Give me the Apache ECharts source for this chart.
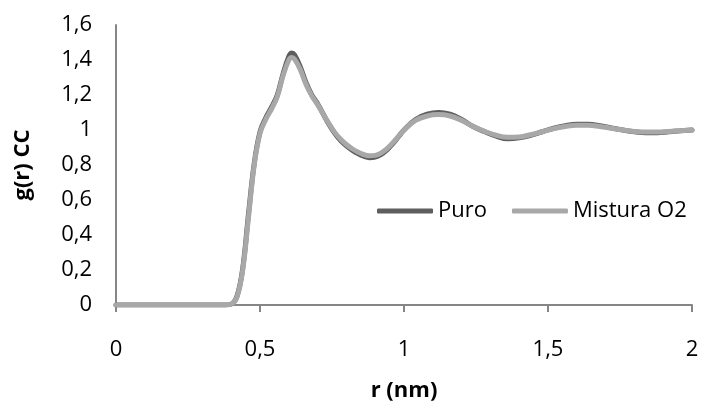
<!DOCTYPE html>
<html>
<head>
<meta charset="utf-8">
<script src="https://cdn.jsdelivr.net/npm/echarts@6/dist/echarts.min.js"></script>
<style>
html,body{margin:0;padding:0;background:#fff;}
#chart{width:703px;height:415px;}
</style>
</head>
<body>
<div id="chart"></div>
<script>
const rValues = [0, 0.1, 0.2, 0.3, 0.38, 0.40, 0.42, 0.44, 0.46, 0.48, 0.50, 0.52, 0.54, 0.56, 0.58, 0.60, 0.61, 0.62, 0.64, 0.66, 0.68, 0.70, 0.72, 0.74, 0.76, 0.78, 0.80, 0.82, 0.84, 0.86, 0.88, 0.90, 0.92, 0.94, 0.96, 0.98, 1.00, 1.04, 1.08, 1.12, 1.16, 1.20, 1.24, 1.28, 1.32, 1.36, 1.40, 1.44, 1.48, 1.52, 1.56, 1.60, 1.64, 1.68, 1.72, 1.76, 1.80, 1.84, 1.88, 1.92, 1.96, 2.00];
const puro = [0, 0, 0, 0, 0, 0.005, 0.05, 0.21, 0.52, 0.81, 0.99, 1.07, 1.13, 1.2, 1.32, 1.42, 1.44, 1.43, 1.36, 1.27, 1.2, 1.15, 1.09, 1.03, 0.98, 0.94, 0.91, 0.885, 0.865, 0.85, 0.842, 0.845, 0.86, 0.885, 0.92, 0.96, 1.0, 1.06, 1.09, 1.1, 1.09, 1.06, 1.02, 0.99, 0.965, 0.95, 0.955, 0.97, 0.99, 1.01, 1.025, 1.033, 1.033, 1.025, 1.012, 1.0, 0.99, 0.985, 0.985, 0.99, 0.995, 1.0];
const mistura = [0, 0, 0, 0, 0, 0.005, 0.045, 0.2, 0.5, 0.8, 0.98, 1.06, 1.12, 1.19, 1.31, 1.4, 1.415, 1.405, 1.345, 1.26, 1.195, 1.145, 1.09, 1.035, 0.985, 0.947, 0.917, 0.893, 0.874, 0.86, 0.853, 0.855, 0.868, 0.892, 0.925, 0.962, 1.0, 1.055, 1.08, 1.088, 1.08, 1.055, 1.02, 0.992, 0.97, 0.958, 0.96, 0.973, 0.99, 1.008, 1.02, 1.027, 1.027, 1.02, 1.01, 1.0, 0.992, 0.988, 0.988, 0.992, 0.996, 1.0];
const seriesNames = ['Puro', 'Mistura O2'];
const xTicks = [0, 0.5, 1, 1.5, 2];
const yTicks = [0, 0.2, 0.4, 0.6, 0.8, 1, 1.2, 1.4, 1.6];

const fmt = v => String(Math.round(v * 10) / 10).replace('.', ',');
const FONT = '"Open Sans", "Noto Sans", sans-serif';

const chart = echarts.init(document.getElementById('chart'), null, {renderer: 'canvas'});
chart.setOption({
  animation: false,
  backgroundColor: '#ffffff',
  grid: {left: 116, right: 11, top: 25, bottom: 110, containLabel: false},
  legend: {
    left: 372, top: 195,
    itemWidth: 56, itemHeight: 5, itemGap: 25,
    icon: 'roundRect',
    textStyle: {fontFamily: FONT, fontSize: 22, color: '#000'},
    data: seriesNames
  },
  xAxis: {
    type: 'value', min: xTicks[0], max: xTicks[xTicks.length - 1], interval: 0.5,
    name: 'r (nm)', nameLocation: 'middle', nameGap: 75,
    nameTextStyle: {fontFamily: FONT, fontSize: 22, fontWeight: 'bold', color: '#000'},
    axisLine: {show: true, lineStyle: {color: '#868686', width: 2}},
    axisTick: {show: true, length: 7, lineStyle: {color: '#868686', width: 2}},
    axisLabel: {fontFamily: FONT, fontSize: 22, color: '#000', margin: 34, formatter: fmt},
    splitLine: {show: false}
  },
  yAxis: {
    type: 'value', min: yTicks[0], max: yTicks[yTicks.length - 1], interval: 0.2,
    name: 'g(r) CC', nameLocation: 'middle', nameGap: 82,
    nameTextStyle: {fontFamily: FONT, fontSize: 22, fontWeight: 'bold', color: '#000'},
    axisLine: {show: true, lineStyle: {color: '#868686', width: 2}},
    axisTick: {show: false},
    axisLabel: {fontFamily: FONT, fontSize: 22, color: '#000', margin: 24, formatter: fmt},
    splitLine: {show: false}
  },
  series: [
    {
      name: seriesNames[0], type: 'line', showSymbol: false, smooth: 0.4,
      data: rValues.map((r, i) => [r, puro[i]]),
      lineStyle: {color: '#5e5e5e', width: 5, cap: 'round', join: 'round'},
      itemStyle: {color: '#5e5e5e'}, z: 2
    },
    {
      name: seriesNames[1], type: 'line', showSymbol: false, smooth: 0.4,
      data: rValues.map((r, i) => [r, mistura[i]]),
      lineStyle: {color: '#a8a8a8', width: 5, cap: 'round', join: 'round'},
      itemStyle: {color: '#a8a8a8'}, z: 3
    }
  ]
});
</script>
</body>
</html>
